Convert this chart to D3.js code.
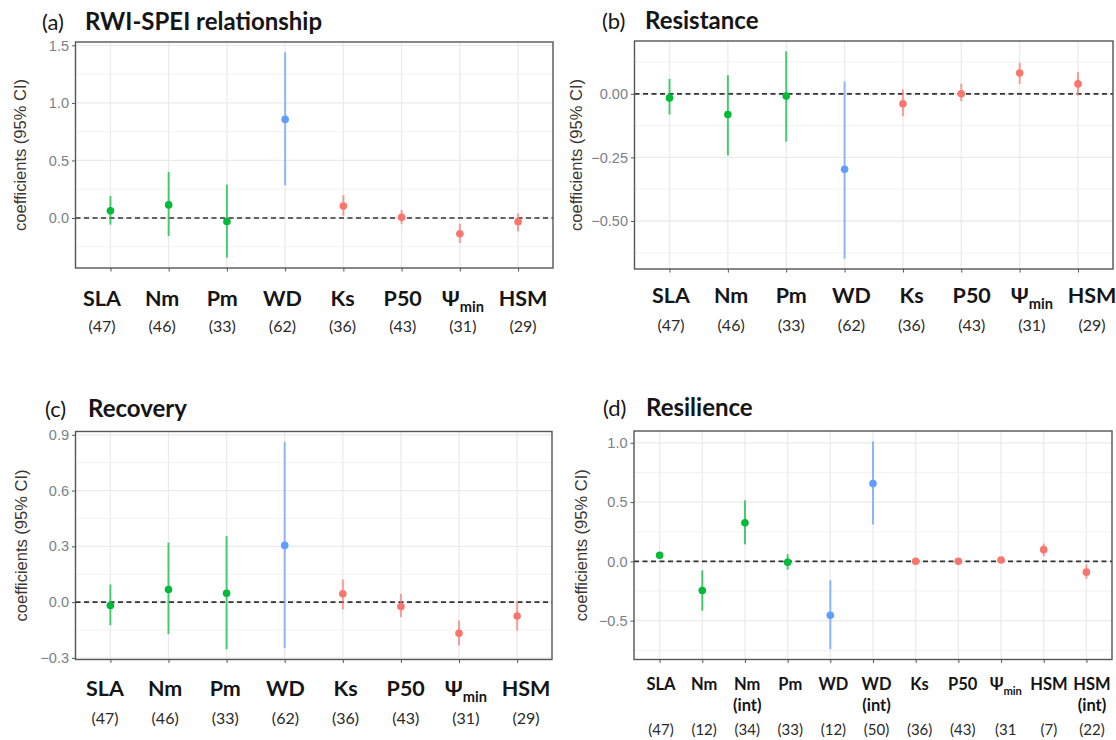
<!DOCTYPE html>
<html>
<head>
<meta charset="utf-8">
<script src="https://cdn.jsdelivr.net/npm/d3@7"></script>
<style>
  html, body { margin: 0; padding: 0; background: #fff; }
  svg { display: block; }
</style>
</head>
<body>
<svg id="fig" width="1116" height="740"></svg>
<script>
// Trait categories shared by panels a–c
const traits = ["SLA", "Nm", "Pm", "WD", "Ks", "P50", "Ψmin", "HSM"];
const traitGroups = ["leaf", "leaf", "leaf", "wood", "hydraulic", "hydraulic", "hydraulic", "hydraulic"];
const traitCounts = ["(47)", "(46)", "(33)", "(62)", "(36)", "(43)", "(31)", "(29)"];

// (a) RWI-SPEI relationship
const rwiEst = [0.063, 0.114, -0.030, 0.857, 0.105, 0.006, -0.137, -0.032];
const rwiLow = [-0.057, -0.157, -0.345, 0.285, 0.020, -0.054, -0.217, -0.117];
const rwiHigh = [0.190, 0.400, 0.290, 1.440, 0.200, 0.070, -0.050, 0.040];

// (b) Resistance
const resistEst = [-0.016, -0.081, -0.009, -0.297, -0.039, 0.000, 0.082, 0.039];
const resistLow = [-0.081, -0.242, -0.188, -0.648, -0.088, -0.029, 0.039, -0.007];
const resistHigh = [0.059, 0.073, 0.167, 0.049, 0.017, 0.040, 0.122, 0.085];

// (c) Recovery
const recovEst = [-0.018, 0.068, 0.048, 0.305, 0.045, -0.024, -0.168, -0.075];
const recovLow = [-0.125, -0.172, -0.253, -0.248, -0.039, -0.081, -0.233, -0.153];
const recovHigh = [0.095, 0.320, 0.355, 0.862, 0.122, 0.045, -0.099, 0.005];

// (d) Resilience, with interaction terms
const resilTraits = ["SLA", "Nm", "Nm (int)", "Pm", "WD", "WD (int)", "Ks", "P50", "Ψmin", "HSM", "HSM (int)"];
const resilGroups = ["leaf", "leaf", "leaf", "leaf", "wood", "wood", "hydraulic", "hydraulic", "hydraulic", "hydraulic", "hydraulic"];
const resilCounts = ["(47)", "(12)", "(34)", "(33)", "(12)", "(50)", "(36)", "(43)", "(31", "(7)", "(22)"];
const resilEst = [0.051, -0.246, 0.325, -0.008, -0.455, 0.656, 0.000, 0.000, 0.011, 0.099, -0.091];
const resilLow = [0.030, -0.416, 0.144, -0.070, -0.740, 0.310, -0.012, -0.010, -0.008, 0.043, -0.147];
const resilHigh = [0.070, -0.076, 0.515, 0.060, -0.160, 1.012, 0.012, 0.010, 0.030, 0.150, -0.026];

// Major tick values per panel
const rwiMajor = [0, 0.5, 1.0, 1.5];
const resistMajor = [-0.5, -0.25, 0];
const recovMajor = [-0.3, 0, 0.3, 0.6, 0.9];
const resilMajor = [-0.5, 0, 0.5, 1.0];

const groupColor = d3.scaleOrdinal()
  .domain(["leaf", "wood", "hydraulic"])
  .range(["#00BA38", "#619CFF", "#F8766D"]);

const svg = d3.select("#fig");

function rows(names, groups, counts, est, low, high) {
  return names.map((n, i) => ({ name: n, group: groups[i], count: counts[i], est: est[i], low: low[i], high: high[i] }));
}

const panels = [
  { tag: "(a)", title: "RWI-SPEI relationship", data: rows(traits, traitGroups, traitCounts, rwiEst, rwiLow, rwiHigh),
    major: rwiMajor, fmt: d3.format(".1f"),
    box: { left: 75.5, right: 553, top: 42, bottom: 268 }, titleX: 42, titleY: 30, yTitleX: 20,
    nameY: 306, countY: 332, labelRange: [102, 523], nameSize: 21.5, countSize: 16 },
  { tag: "(b)", title: "Resistance", data: rows(traits, traitGroups, traitCounts, resistEst, resistLow, resistHigh),
    major: resistMajor, fmt: d3.format(".2f"),
    box: { left: 634.5, right: 1113, top: 41, bottom: 269 }, titleX: 602, titleY: 29, yTitleX: 576,
    nameY: 303, countY: 331, labelRange: [671, 1092], nameSize: 21.5, countSize: 16 },
  { tag: "(c)", title: "Recovery", data: rows(traits, traitGroups, traitCounts, recovEst, recovLow, recovHigh),
    major: recovMajor, fmt: d3.format(".1f"),
    box: { left: 75.5, right: 552, top: 431.5, bottom: 659.5 }, titleX: 45, titleY: 417, yTitleX: 21,
    nameY: 696, countY: 724, labelRange: [105, 526], nameSize: 21.5, countSize: 16 },
  { tag: "(d)", title: "Resilience", data: rows(resilTraits, resilGroups, resilCounts, resilEst, resilLow, resilHigh),
    major: resilMajor, fmt: d3.format(".1f"),
    box: { left: 634, right: 1112, top: 431, bottom: 659.5 }, titleX: 603, titleY: 416, yTitleX: 581,
    nameY: 690, intY: 711, countY: 735, labelRange: [661, 1092], nameSize: 16.5, countSize: 15 }
];

panels.forEach(drawPanel);

function drawPanel(p) {
  const b = p.box;
  const g = svg.append("g");

  // y domain: data range expanded by 5% on each side
  const lo = d3.min(p.data, d => d.low), hi = d3.max(p.data, d => d.high);
  const pad = (hi - lo) * 0.05;
  const y = d3.scaleLinear().domain([lo - pad, hi + pad]).range([b.bottom, b.top]);
  const x = d3.scalePoint().domain(p.data.map(d => d.name)).range([b.left, b.right]).padding(0.6);
  const xl = d3.scalePoint().domain(p.data.map(d => d.name)).range(p.labelRange).padding(0);

  // minor grid halfway between majors
  const step = p.major[1] - p.major[0];
  const [d0, d1] = y.domain();
  const minor = d3.range(Math.ceil((d0 - step / 2) / step) * step + step / 2, d1, step)
    .map(v => +v.toFixed(4)).filter(v => v > d0 && v < d1);
  g.selectAll(".minor").data(minor).join("line")
    .attr("x1", b.left).attr("x2", b.right).attr("y1", d => y(d)).attr("y2", d => y(d))
    .attr("stroke", "#f2f2f2").attr("stroke-width", 1);
  g.selectAll(".major").data(p.major).join("line")
    .attr("x1", b.left).attr("x2", b.right).attr("y1", d => y(d)).attr("y2", d => y(d))
    .attr("stroke", "#ebebeb").attr("stroke-width", 1.3);
  g.selectAll(".vgrid").data(p.data).join("line")
    .attr("x1", d => x(d.name)).attr("x2", d => x(d.name)).attr("y1", b.top).attr("y2", b.bottom)
    .attr("stroke", "#ebebeb").attr("stroke-width", 1.3);

  // zero reference line
  g.append("line")
    .attr("x1", b.left).attr("x2", b.right).attr("y1", y(0)).attr("y2", y(0))
    .attr("stroke", "#333").attr("stroke-width", 1.6).attr("stroke-dasharray", "5,3.5");

  // confidence intervals
  g.selectAll(".ci").data(p.data).join("line")
    .attr("x1", d => x(d.name)).attr("x2", d => x(d.name))
    .attr("y1", d => y(d.low)).attr("y2", d => y(d.high))
    .attr("stroke", d => groupColor(d.group)).attr("stroke-opacity", 0.7).attr("stroke-width", 2);
  // estimates
  g.selectAll(".pt").data(p.data).join("circle")
    .attr("cx", d => x(d.name)).attr("cy", d => y(d.est)).attr("r", 3.8)
    .attr("fill", d => groupColor(d.group));

  // panel border
  g.append("rect")
    .attr("x", b.left).attr("y", b.top).attr("width", b.right - b.left).attr("height", b.bottom - b.top)
    .attr("fill", "none").attr("stroke", "#555").attr("stroke-width", 1.4);

  // y axis ticks and labels
  const yAxis = d3.axisLeft(y).tickValues(p.major).tickFormat(p.fmt).tickSize(3.5).tickPadding(3);
  const ya = g.append("g").attr("transform", `translate(${b.left},0)`).call(yAxis);
  ya.select(".domain").remove();
  ya.selectAll(".tick line").attr("stroke", "#555").attr("stroke-width", 1);
  ya.selectAll(".tick text").attr("fill", "#7b7f88")
    .style("font-family", "'Liberation Sans', Arial, sans-serif").style("font-size", "14.5px");

  // x ticks
  const xAxis = d3.axisBottom(x).tickSize(3.5).tickFormat("");
  const xa = g.append("g").attr("transform", `translate(0,${b.bottom})`).call(xAxis);
  xa.select(".domain").remove();
  xa.selectAll(".tick line").attr("stroke", "#555").attr("stroke-width", 1);

  // y title
  g.append("text")
    .attr("transform", `translate(${p.yTitleX},${(b.top + b.bottom) / 2}) rotate(-90)`)
    .attr("text-anchor", "middle").attr("dominant-baseline", "central")
    .style("font-family", "'Liberation Sans', Arial, sans-serif").style("font-size", "16.5px")
    .attr("fill", "#3b3630").text("coefficients (95% CI)");

  // panel title
  const t = g.append("text").attr("y", p.titleY)
    .style("font-family", "Lato, 'Open Sans', sans-serif").attr("fill", "#151515");
  t.append("tspan").attr("x", p.titleX).style("font-size", "22px").text(p.tag);
  t.append("tspan").attr("x", p.titleX + 43).style("font-size", "24px").style("font-weight", "bold").text(p.title);

  // trait names
  const names = g.selectAll(".name").data(p.data).join("text")
    .attr("x", d => xl(d.name)).attr("y", p.nameY).attr("text-anchor", "middle")
    .style("font-family", "Lato, 'Open Sans', sans-serif").style("font-weight", "bold")
    .style("font-size", p.nameSize + "px").attr("fill", "#151515");
  names.each(function (d) {
    const el = d3.select(this);
    if (d.name === "Ψmin") {
      el.append("tspan").text("Ψ");
      el.append("tspan").attr("dy", p.nameSize * 0.3).style("font-size", (p.nameSize * 0.68) + "px").text("min");
    } else if (d.name.endsWith("(int)")) {
      el.append("tspan").text(d.name.replace(" (int)", ""));
      el.append("tspan").attr("x", xl(d.name)).attr("y", p.intY).text("(int)");
    } else {
      el.text(d.name);
    }
  });

  // sample sizes
  g.selectAll(".count").data(p.data).join("text")
    .attr("x", d => xl(d.name)).attr("y", p.countY).attr("text-anchor", "middle")
    .style("font-family", "Lato, 'Open Sans', sans-serif")
    .style("font-size", p.countSize + "px").attr("fill", "#2a2a2a").text(d => d.count);
}
</script>
</body>
</html>
